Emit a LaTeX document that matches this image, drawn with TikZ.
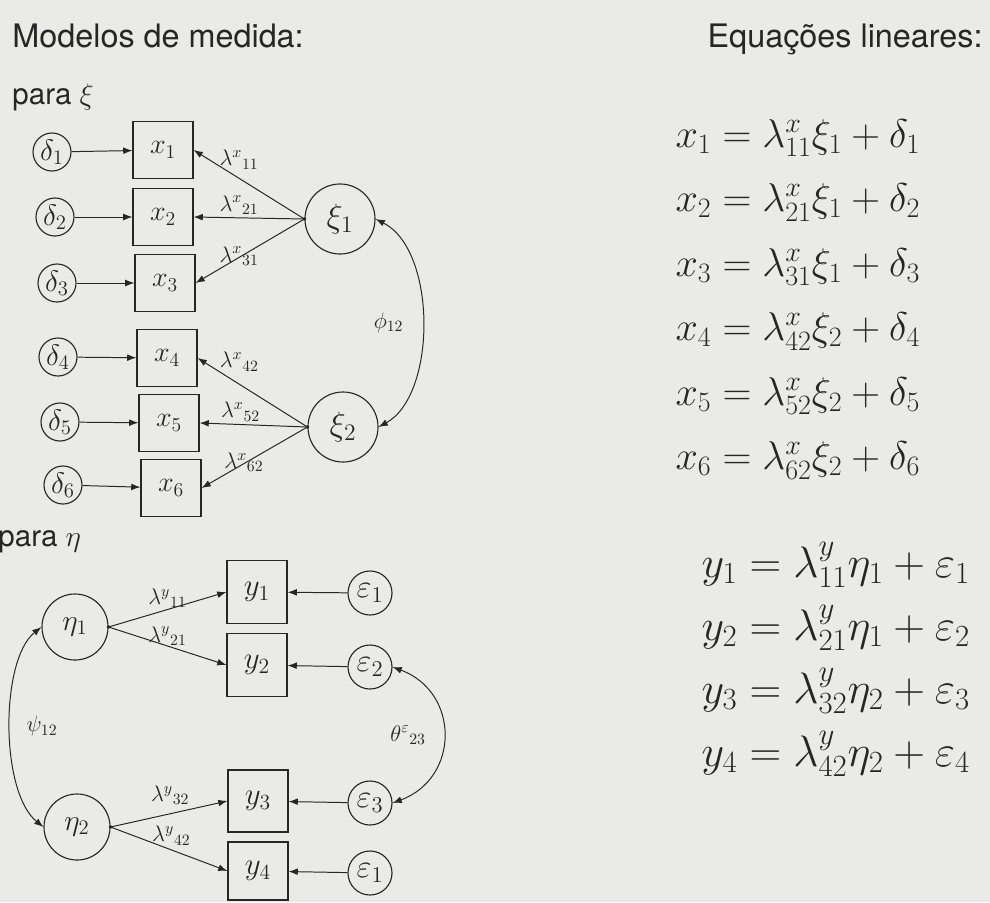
\RequirePackage{fix-cm}
\documentclass[tikz,border=0pt]{standalone}
\usepackage{amsmath}
\usepackage{fontspec}
\setsansfont{TeX Gyre Heros}
\usepackage{tikz}
\usetikzlibrary{arrows.meta}
\definecolor{paper}{RGB}{234,234,232}
\definecolor{ink}{RGB}{38,38,38}

\begin{document}
\begin{tikzpicture}[x=0.025cm, y=-0.025cm, >={Latex[length=2.3mm,width=1.7mm]},
  color=ink, line width=0.7pt,
  obs/.style={draw, line width=0.8pt, minimum width=1.5cm, minimum height=1.42cm, inner sep=0pt, font=\fontsize{20}{22}\selectfont},
  lat/.style={circle, draw, line width=0.8pt, minimum size=1.75cm, inner sep=0pt, font=\fontsize{24}{26}\selectfont},
  err/.style={circle, draw, line width=0.8pt, minimum size=0.95cm, inner sep=0pt, font=\fontsize{21}{24}\selectfont},
  lab/.style={font=\fontsize{16}{18}\selectfont, inner sep=1pt},
  eqn/.style={anchor=base west, inner sep=0pt},
  head/.style={anchor=base west, inner sep=0pt, font=\sffamily\fontsize{23}{26}\selectfont}]
% paper
\fill[paper] (0,0) rectangle (990,902);
\useasboundingbox (0,0) rectangle (990,902);
% headings
\node[head] (hmod) at (12,47) {Modelos de medida:};
\node[head, anchor=base east] (heq) at (983,47) {Equações lineares:};
\node[head, font=\sffamily\fontsize{21}{24}\selectfont] (hxi) at (12,104) {para $\xi$};
\node[head, font=\sffamily\fontsize{21}{24}\selectfont] (heta) at (-2,546) {para $\eta$};
% x indicators
\node[obs] (x1) at (163,150) {$x_1$};
\node[obs] (x2) at (163,217) {$x_2$};
\node[obs] (x3) at (165,283) {$x_3$};
\node[obs] (x4) at (167,358) {$x_4$};
\node[obs] (x5) at (169,423) {$x_5$};
\node[obs] (x6) at (171,488) {$x_6$};
% delta errors
\node[err] (d1) at (52,152) {$\delta_1$};
\node[err] (d2) at (55,217) {$\delta_2$};
\node[err] (d3) at (57,283) {$\delta_3$};
\node[err] (d4) at (58,357) {$\delta_4$};
\node[err] (d5) at (60,422) {$\delta_5$};
\node[err] (d6) at (63,485) {$\delta_6$};
% xi factors
\node[lat] (xi1) at (340,219) {$\xi_1$};
\node[lat] (xi2) at (343,427) {$\xi_2$};
\foreach \i in {1,...,6} \draw[->] (d\i) -- (x\i);
\draw[->] (xi1.west) -- (x1.east) node[lab, pos=0.59, above=5pt] {$\lambda^{x}{}_{11}$};
\draw[->] (xi1.west) -- (x2.east) node[lab, pos=0.59, above=1pt] {$\lambda^{x}{}_{21}$};
\draw[->] (xi1.west) -- (x3.east) node[lab, pos=0.6, yshift=1pt] {$\lambda^{x}{}_{31}$};
\draw[->] (xi2.west) -- (x4.east) node[lab, pos=0.62, above=8pt] {$\lambda^{x}{}_{42}$};
\draw[->] (xi2.west) -- (x5.east) node[lab, pos=0.62, above=1pt] {$\lambda^{x}{}_{52}$};
\draw[->] (xi2.west) -- (x6.east) node[lab, pos=0.6, yshift=1pt] {$\lambda^{x}{}_{62}$};
\fill (xi1.west) circle[radius=1.4pt];
\fill (xi2.west) circle[radius=1.4pt];
% phi_12
\draw[<->] (xi1.east) .. controls (437,250) and (437,395) .. (xi2.east)
  node[lab, pos=0.5, left=12pt] {$\phi_{12}$};
% y indicators
\node[obs, minimum height=1.58cm, font=\fontsize{22}{24}\selectfont] (y1) at (257,592) {$y_1$};
\node[obs, minimum height=1.58cm, font=\fontsize{22}{24}\selectfont] (y2) at (257,665) {$y_2$};
\node[obs, minimum height=1.55cm, font=\fontsize{22}{24}\selectfont] (y3) at (258,801) {$y_3$};
\node[obs, minimum height=1.45cm, font=\fontsize{22}{24}\selectfont] (y4) at (258,871) {$y_4$};
% eta factors
\node[lat, minimum size=1.65cm, font=\fontsize{21}{24}\selectfont] (eta1) at (75,627) {$\eta_1$};
\node[lat, minimum size=1.65cm, font=\fontsize{21}{24}\selectfont] (eta2) at (77,827) {$\eta_2$};
% epsilon errors
\node[err, minimum size=1.1cm, font=\fontsize{23}{26}\selectfont] (e1) at (370,593) {$\varepsilon_1$};
\node[err, minimum size=1.1cm, font=\fontsize{23}{26}\selectfont] (e2) at (370,667) {$\varepsilon_2$};
\node[err, minimum size=1.1cm, font=\fontsize{23}{26}\selectfont] (e3) at (370,803) {$\varepsilon_3$};
\node[err, minimum size=1.1cm, font=\fontsize{23}{26}\selectfont] (e4) at (370,873) {$\varepsilon_1$};
\foreach \i in {1,...,4} \draw[->] (e\i) -- (y\i);
\draw[->] (eta1.east) -- (y1.west) node[lab, pos=0.5, above] {$\lambda^{y}{}_{11}$};
\draw[->] (eta1.east) -- (y2.west) node[lab, pos=0.5, above=-1pt] {$\lambda^{y}{}_{21}$};
\draw[->] (eta2.east) -- (y3.west) node[lab, pos=0.51, above=5pt] {$\lambda^{y}{}_{32}$};
\draw[->] (eta2.east) -- (y4.west) node[lab, pos=0.52, above=2pt] {$\lambda^{y}{}_{42}$};
\fill (eta1.east) circle[radius=1.4pt];
\fill (eta2.east) circle[radius=1.4pt];
% psi_12 and theta_23
\draw[<->] (eta1.west) .. controls (0,660) and (0,792) .. (eta2.west)
  node[lab, pos=0.5, right=10pt] {$\psi_{12}$};
\draw[<->] (e2.east) .. controls (460,692) and (460,778) .. (e3.east)
  node[lab, pos=0.5, left=11pt] {$\theta^{\varepsilon}{}_{23}$};
% equations for x
\begin{scope}[every node/.append style={font=\fontsize{28.5}{31}\selectfont}]
\node[eqn] (ex1) at (675,147) {$x_1 = \lambda^x_{11}\xi_1 + \delta_1$};
\node[eqn] (ex2) at (675,211.5) {$x_2 = \lambda^x_{21}\xi_1 + \delta_2$};
\node[eqn] (ex3) at (675,276) {$x_3 = \lambda^x_{31}\xi_1 + \delta_3$};
\node[eqn] (ex4) at (675,340.5) {$x_4 = \lambda^x_{42}\xi_2 + \delta_4$};
\node[eqn] (ex5) at (675,405) {$x_5 = \lambda^x_{52}\xi_2 + \delta_5$};
\node[eqn] (ex6) at (675,469.5) {$x_6 = \lambda^x_{62}\xi_2 + \delta_6$};
\end{scope}
% equations for y
\begin{scope}[every node/.append style={font=\fontsize{31.3}{34}\selectfont}]
\node[eqn] (ey1) at (701,577) {$y_1 = \lambda^y_{11}\eta_1 + \varepsilon_1$};
\node[eqn] (ey2) at (701,640) {$y_2 = \lambda^y_{21}\eta_1 + \varepsilon_2$};
\node[eqn] (ey3) at (701,703) {$y_3 = \lambda^y_{32}\eta_2 + \varepsilon_3$};
\node[eqn] (ey4) at (701,766) {$y_4 = \lambda^y_{42}\eta_2 + \varepsilon_4$};
\end{scope}
\end{tikzpicture}
\end{document}
